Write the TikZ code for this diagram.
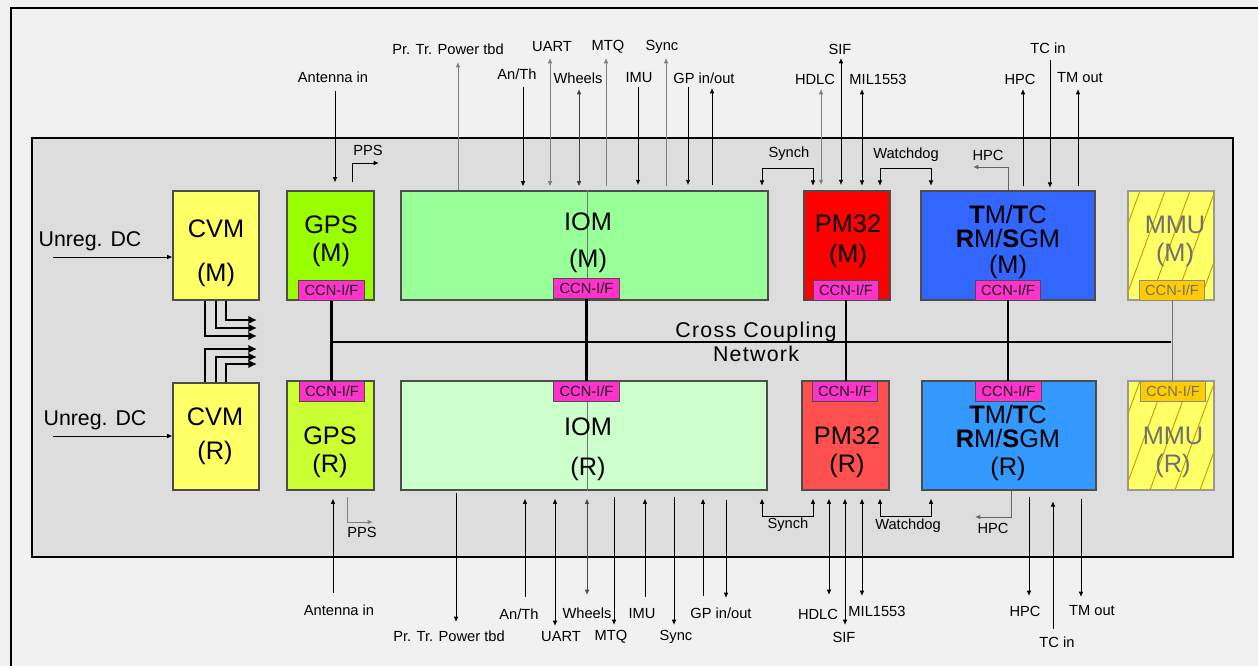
\documentclass[tikz,border=0pt]{standalone}
\usepackage{fontspec}
\setmainfont{Liberation Sans}
\newfontfamily\widefont[LetterSpace=6]{Liberation Sans}
\usetikzlibrary{arrows.meta, fit}

\definecolor{bggray}{HTML}{F1F1F1}
\definecolor{panelgray}{HTML}{DDDDDD}
\definecolor{cvmyel}{HTML}{FFFF66}
\definecolor{gpsM}{HTML}{99FF00}
\definecolor{gpsR}{HTML}{CCFF33}
\definecolor{iomM}{HTML}{99FF99}
\definecolor{iomR}{HTML}{CCFFCC}
\definecolor{pmM}{HTML}{FF0000}
\definecolor{pmR}{HTML}{FF5050}
\definecolor{tmM}{HTML}{3366FF}
\definecolor{tmR}{HTML}{3399FF}
\definecolor{ccnpink}{HTML}{FF33CC}
\definecolor{ccngold}{HTML}{FFCC00}
\definecolor{hatchgold}{HTML}{CC9900}
\definecolor{mmutext}{HTML}{707070}
\definecolor{siggray}{HTML}{808080}

\begin{document}
\begin{tikzpicture}[
    x=0.75pt, y=-0.75pt,
    >={Latex[length=4pt,width=3.5pt]},
    font=\fontsize{11}{13}\selectfont,
    modbox/.style={draw=black!70, line width=0.8pt, inner sep=0pt},
    ccn/.style={draw=black!70, line width=0.6pt, fill=ccnpink, inner sep=0pt,
        minimum width=49pt, minimum height=15pt,
        font=\fontsize{11}{12}\selectfont, text=black!90},
    mmuccn/.style={ccn, fill=ccngold, draw=black!45, text=mmutext},
    modname/.style={align=center, font=\fontsize{19}{21}\selectfont},
    lbl/.style={inner sep=1pt},
    sig/.style={->, line width=0.7pt},
    gsig/.style={sig, draw=siggray},
    bus/.style={line width=2.2pt},
    feed/.style={line width=1.5pt, -{Latex[length=6.5pt,width=6.5pt]}},
    hatch/.style={draw=hatchgold, line width=0.7pt},
]

\useasboundingbox (0,0) rectangle (1258,666);
\fill[bggray] (0,0) rectangle (1258,666);
\draw[line width=1.3pt] (1258,8) -- (11,8) -- (11,666);

% panel
\node[draw, line width=1.5pt, fill=panelgray, inner sep=0pt, fit={(32,138)(1233,557)}] (panel) {};

% modules, main row
\node[modbox, fill=cvmyel, fit={(173,191)(259,300)}] (cvmM) {};
\node[modbox, fill=gpsM, fit={(287,191)(374,300)}] (gpsM) {};
\node[modbox, fill=iomM, fit={(401,191)(768,300)}] (iomM) {};
\node[modbox, fill=pmM, fit={(804,191)(890,300)}] (pmM) {};
\node[modbox, fill=tmM, fit={(921,191)(1095,300)}] (tmM) {};
\node[modbox, fill=cvmyel, draw=black!40, fit={(1128,191)(1214,300)}] (mmuM) {};

% modules, redundant row
\node[modbox, fill=cvmyel, fit={(173,383)(259,490)}] (cvmR) {};
\node[modbox, fill=gpsR, fit={(287,381)(374,490)}] (gpsR) {};
\node[modbox, fill=iomR, fit={(401,381)(767,490)}] (iomR) {};
\node[modbox, fill=pmR, fit={(802,381)(889,490)}] (pmR) {};
\node[modbox, fill=tmR, fit={(922,381)(1096,490)}] (tmR) {};
\node[modbox, fill=cvmyel, draw=black!40, fit={(1128,381)(1214,490)}] (mmuR) {};

% MMU hatching
\begin{scope}
    \clip (mmuM.south west) rectangle (mmuM.north east);
    \foreach \k in {0,...,5}
        \draw[hatch] (1100+\k*25,300) -- ++(40,-109);
\end{scope}
\begin{scope}
    \clip (mmuR.south west) rectangle (mmuR.north east);
    \foreach \k in {0,...,5}
        \draw[hatch] (1100+\k*25,490) -- ++(40,-109);
\end{scope}

% IOM centre lines
\draw[black!55, line width=0.4pt] (iomM.north -| 587,0) -- (587,279);
\draw[black!55, line width=0.4pt] (587,402) -- (iomR.south -| 587,0);

% module names
\node[modname] (cvmMt) at (216,253) {CVM\\[12pt](M)};
\node[modname] (gpsMt) at (331,241) {GPS\\(M)};
\node[modname] (iomMt) at (588,243) {IOM\\[6.75pt](M)};
\node[modname] (pmMt) at (848,241) {PM32\\[1.5pt](M)};
\node[modname] (tmMt) at (1008,242) {\textbf{T}M/\textbf{T}C\\[-3pt]\textbf{R}M/\textbf{S}GM\\[-1pt](M)};
\node[modname, text=mmutext] (mmuMt) at (1175,241) {MMU\\(M)};

\node[modname] (cvmRt) at (215,436) {CVM\\[4.5pt](R)};
\node[modname] (gpsRt) at (330,452) {GPS\\(R)};
\node[modname] (iomRt) at (588,449) {IOM\\[9pt](R)};
\node[modname] (pmRt) at (847,452) {PM32\\(R)};
\node[modname] (tmRt) at (1008,443) {\textbf{T}M/\textbf{T}C\\[-3pt]\textbf{R}M/\textbf{S}GM\\(R)};
\node[modname, text=mmutext] (mmuRt) at (1173,452) {MMU\\(R)};

% CCN interfaces
\node[ccn] (ccnGM) at (331.5,290.5) {CCN-I/F};
\node[ccn] (ccnIM) at (586.5,288.5) {CCN-I/F};
\node[ccn] (ccnPM) at (846,290) {CCN-I/F};
\node[ccn] (ccnTM) at (1008,290) {CCN-I/F};
\node[mmuccn] (ccnMM) at (1172,290) {CCN-I/F};
\node[ccn] (ccnGR) at (332,391.5) {CCN-I/F};
\node[ccn] (ccnIR) at (586.5,391.5) {CCN-I/F};
\node[ccn] (ccnPR) at (845,391.5) {CCN-I/F};
\node[ccn] (ccnTR) at (1008.5,391.5) {CCN-I/F};
\node[mmuccn] (ccnMR) at (1173,391.5) {CCN-I/F};

% cross coupling network
\coordinate (busW) at (331,342);
\coordinate (busE) at (1171,342);
\draw[bus] (busW) -- (busE);
\draw[bus] (ccnGM.south) -- (ccnGM.south |- ccnGR.north);
\draw[bus] (ccnIM.south) -- (ccnIM.south |- ccnIR.north);
\draw[bus] (ccnPM.south) -- (ccnPM.south |- ccnPR.north);
\draw[bus] (ccnTM.south) -- (ccnTM.south |- ccnTR.north);
\draw[black!55, line width=0.7pt] (ccnMM.south) -- (ccnMM.south |- ccnMR.north);
\node[font=\widefont\fontsize{16}{18}\selectfont, align=center] (ccnet) at (756,342) {Cross Coupling\\Network};

% power feeds
\node[lbl, font=\fontsize{16}{18}\selectfont] (dcMl) at (90,241) {Unreg. DC};
\node[lbl, font=\fontsize{16}{18}\selectfont] (dcRl) at (95,420) {Unreg. DC};
\coordinate (dcMf) at (53,257);
\coordinate (dcRf) at (53,436);
\draw[sig] (dcMf) -- (dcMf -| cvmM.west);
\draw[sig] (dcRf) -- (dcRf -| cvmR.west);

\coordinate (feedM1) at (257,320);
\coordinate (feedM2) at (257,328);
\coordinate (feedM3) at (257,336);
\coordinate (feedR1) at (257,349);
\coordinate (feedR2) at (257,357);
\coordinate (feedR3) at (257,364);
\foreach \x/\k in {226/1, 216/2, 205/3}
    \draw[feed] (cvmM.south -| \x,0) |- (feedM\k);
\foreach \x/\k in {205/1, 216/2, 226/3}
    \draw[feed] (cvmR.north -| \x,0) |- (feedR\k);

% top signals
\node[lbl] (antMl) at (333,77) {Antenna in};
\node[lbl] (ppsMl) at (368,150) {PPS};
\node[lbl] (pwrMl) at (448,49) {Pr. Tr. Power tbd};
\node[lbl] (anthMl) at (517,74) {An/Th};
\node[lbl] (uartMl) at (552,47) {UART};
\node[lbl] (whlMl) at (578,78) {Wheels};
\node[lbl] (mtqMl) at (608,47) {MTQ};
\node[lbl] (imuMl) at (639,78) {IMU};
\node[lbl] (syncMl) at (662,47) {Sync};
\node[lbl] (gpMl) at (704,78) {GP in/out};
\node[lbl] (synchMl) at (789,154) {Synch};
\node[lbl] (hdlcMl) at (815,79) {HDLC};
\node[lbl] (sifMl) at (840,49) {SIF};
\node[lbl] (milMl) at (878,79) {MIL1553};
\node[lbl] (wdMl) at (906,155) {Watchdog};
\node[lbl] (hpciMl) at (988,155) {HPC};
\node[lbl] (hpcMl) at (1020,79) {HPC};
\node[lbl] (tcMl) at (1048,48) {TC in};
\node[lbl] (tmoMl) at (1080,78) {TM out};

\coordinate (antMf) at (335,91);
\coordinate (ppsMk) at (352,163);
\coordinate (ppsMe) at (379,163);
\coordinate (pwrMf) at (458,62);
\coordinate (anthMf) at (523,87);
\coordinate (uartMf) at (550,58);
\coordinate (whlMf) at (579,89);
\coordinate (mtqMf) at (606,58);
\coordinate (imuMf) at (638,87);
\coordinate (syncMf) at (666,58);
\coordinate (gpaMf) at (688,87);
\coordinate (gpbMf) at (712,88);
\coordinate (synchMa) at (762,168);
\coordinate (synchMb) at (813,168);
\coordinate (hdlcMf) at (821,89);
\coordinate (sifMf) at (841,58);
\coordinate (milMf) at (862,89);
\coordinate (wdMa) at (880,168);
\coordinate (wdMb) at (931,168);
\coordinate (hpciMk) at (1008,167);
\coordinate (hpciMe) at (973,167);
\coordinate (hpcMf) at (1023,89);
\coordinate (tcMf) at (1050,60);
\coordinate (tmoMf) at (1078,89);

\draw[sig, shorten >=6pt] (antMf) -- (antMf |- gpsM.north);
\draw[sig, shorten <=6pt] (ppsMk |- gpsM.north) -- (ppsMk) -- (ppsMe);
\draw[gsig] (pwrMf |- iomM.north) -- (pwrMf);
\draw[sig, shorten >=3pt] (anthMf) -- (anthMf |- iomM.north);
\draw[gsig, <->, shorten >=3pt] (uartMf) -- (uartMf |- iomM.north);
\draw[sig, <->, draw=black!75, shorten >=3pt] (whlMf) -- (whlMf |- iomM.north);
\draw[gsig, shorten <=3pt] (mtqMf |- iomM.north) -- (mtqMf);
\draw[sig, shorten >=4pt] (imuMf) -- (imuMf |- iomM.north);
\draw[gsig, shorten <=3pt] (syncMf |- iomM.north) -- (syncMf);
\draw[sig, shorten >=4pt] (gpaMf) -- (gpaMf |- iomM.north);
\draw[sig, shorten <=4pt] (gpbMf |- iomM.north) -- (gpbMf);
\draw[sig, <->, shorten <=3.5pt, shorten >=3.5pt] (synchMa |- iomM.north) -- (synchMa) -- (synchMb) -- (synchMb |- pmM.north);
\draw[gsig, <->, shorten >=4pt] (hdlcMf) -- (hdlcMf |- pmM.north);
\draw[sig, <->, shorten >=4pt] (sifMf) -- (sifMf |- pmM.north);
\draw[sig, <->, shorten >=3.5pt] (milMf) -- (milMf |- pmM.north);
\draw[sig, <->, shorten <=3.5pt, shorten >=3.5pt] (wdMa |- pmM.north) -- (wdMa) -- (wdMb) -- (wdMb |- tmM.north);
\draw[gsig, draw=black!60] (hpciMk |- tmM.north) -- (hpciMk) -- (hpciMe);
\draw[sig, shorten <=3pt] (hpcMf |- tmM.north) -- (hpcMf);
\draw[sig, shorten >=2pt] (tcMf) -- (tcMf |- tmM.north);
\draw[sig, shorten <=3pt] (tmoMf |- tmM.north) -- (tmoMf);

% bottom signals
\node[lbl] (antRl) at (339,610) {Antenna in};
\node[lbl] (ppsRl) at (362,532) {PPS};
\node[lbl] (pwrRl) at (449,636) {Pr. Tr. Power tbd};
\node[lbl] (anthRl) at (519,614) {An/Th};
\node[lbl] (uartRl) at (561,637) {UART};
\node[lbl] (whlRl) at (587,613) {Wheels};
\node[lbl] (mtqRl) at (611,637) {MTQ};
\node[lbl] (imuRl) at (642,614) {IMU};
\node[lbl] (syncRl) at (676,637) {Sync};
\node[lbl] (gpRl) at (721,613) {GP in/out};
\node[lbl] (synchRl) at (788,525) {Synch};
\node[lbl] (hdlcRl) at (818,614) {HDLC};
\node[lbl] (sifRl) at (844,637) {SIF};
\node[lbl] (milRl) at (877,611) {MIL1553};
\node[lbl] (wdRl) at (908,526) {Watchdog};
\node[lbl] (hpciRl) at (993,528) {HPC};
\node[lbl] (hpcRl) at (1025,611) {HPC};
\node[lbl] (tcRl) at (1057,642) {TC in};
\node[lbl] (tmoRl) at (1092,611) {TM out};

\coordinate (antRf) at (333,593);
\coordinate (ppsRk) at (347,522);
\coordinate (ppsRe) at (373,522);
\coordinate (pwrRf) at (456,622);
\coordinate (anthRf) at (525,597);
\coordinate (uartRf) at (555,626);
\coordinate (whlRf) at (587,595);
\coordinate (mtqRf) at (614,625);
\coordinate (imuRf) at (645,597);
\coordinate (syncRf) at (674,625);
\coordinate (gpaRf) at (703,596);
\coordinate (gpbRf) at (726,598);
\coordinate (synchRa) at (762,516);
\coordinate (synchRb) at (813,516);
\coordinate (hdlcRf) at (829,595);
\coordinate (sifRf) at (845,625);
\coordinate (milRf) at (862,596);
\coordinate (wdRa) at (880,516);
\coordinate (wdRb) at (931,516);
\coordinate (hpciRk) at (1011,517);
\coordinate (hpciRe) at (975,517);
\coordinate (hpcRf) at (1029,596);
\coordinate (tcRf) at (1053,629);
\coordinate (tmoRf) at (1081,597);

\draw[sig, shorten >=6pt] (antRf) -- (antRf |- gpsR.south);
\draw[gsig, shorten <=5pt] (ppsRk |- gpsR.south) -- (ppsRk) -- (ppsRe);
\draw[sig, shorten <=2pt] (pwrRf |- iomR.south) -- (pwrRf);
\draw[sig, shorten >=6pt] (anthRf) -- (anthRf |- iomR.south);
\draw[sig, <->, shorten >=6pt] (uartRf) -- (uartRf |- iomR.south);
\draw[sig, <->, draw=black!70, shorten >=6pt] (whlRf) -- (whlRf |- iomR.south);
\draw[sig, shorten <=5pt] (mtqRf |- iomR.south) -- (mtqRf);
\draw[sig, shorten >=6pt] (imuRf) -- (imuRf |- iomR.south);
\draw[sig, shorten <=5pt] (syncRf |- iomR.south) -- (syncRf);
\draw[sig, shorten >=6pt] (gpaRf) -- (gpaRf |- iomR.south);
\draw[sig, shorten <=7pt] (gpbRf |- iomR.south) -- (gpbRf);
\draw[sig, <->, shorten <=6pt, shorten >=6pt] (synchRa |- iomR.south) -- (synchRa) -- (synchRb) -- (synchRb |- pmR.south);
\draw[sig, <->, shorten >=6pt] (hdlcRf) -- (hdlcRf |- pmR.south);
\draw[sig, <->, shorten >=6pt] (sifRf) -- (sifRf |- pmR.south);
\draw[sig, <->, shorten >=6pt] (milRf) -- (milRf |- pmR.south);
\draw[sig, <->, shorten <=6pt, shorten >=6pt] (wdRa |- pmR.south) -- (wdRa) -- (wdRb) -- (wdRb |- tmR.south);
\draw[gsig, draw=black!60] (hpciRk |- tmR.south) -- (hpciRk) -- (hpciRe);
\draw[sig, shorten <=5pt] (hpcRf |- tmR.south) -- (hpcRf);
\draw[sig, shorten >=8pt] (tcRf) -- (tcRf |- tmR.south);
\draw[sig, shorten <=6pt] (tmoRf |- tmR.south) -- (tmoRf);

\end{tikzpicture}
\end{document}
